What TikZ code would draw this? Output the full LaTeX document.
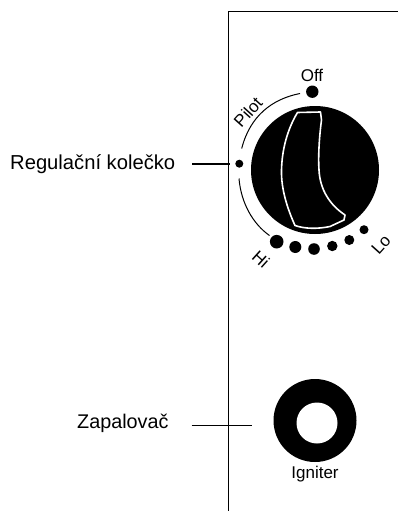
\documentclass[tikz,border=0pt]{standalone}
\usepackage{fontspec}
\setmainfont{Liberation Sans}
\tikzset{
  lbl/.style={inner sep=0pt,font=\fontsize{19.8}{22}\selectfont,text=black},
  biglbl/.style={inner sep=0pt,font=\fontsize{20.2}{22}\selectfont,text=black},
  dial/.style={inner sep=0pt,font=\fontsize{17}{19}\selectfont,text=black},
  scale mark/.style={fill=black,draw=none},
  panel/.style={draw=black,line width=1pt},
  leader/.style={draw=black,line width=1pt},
  thickleader/.style={draw=black,line width=2.2pt},
  arcline/.style={draw=black,line width=1pt}
}
\begin{document}
\begin{tikzpicture}[x=1pt,y=-1pt]
\useasboundingbox (0,0) rectangle (398,511);
\fill[white] (0,0) rectangle (398,511);
% panel
\draw[panel] (398,12) -- (228.5,12) -- (228.5,511);
% knob
\fill[black] (315,170) circle (64);
\draw[white,line width=1.6pt,line join=round]
 (297.5,112.5) -- (320.5,112) -- (321.5,120)
 .. controls (319.5,135) and (318,155) .. (319,170)
 .. controls (320,190) and (330,205) .. (345,215)
 -- (344,220) -- (330,226.5)
 .. controls (318,229) and (305,229) .. (295,225.5)
 .. controls (288,210) and (281,190) .. (281.5,170)
 .. controls (282,150) and (287,130) .. (297.5,112.5) -- cycle;
% dial marks
\fill[scale mark] (312.3,91.7) circle (6.2);
\fill[scale mark] (239.3,163.7) circle (4);
\fill[scale mark] (276.7,241.7) circle (6.8);
\fill[scale mark] (295.3,247) circle (6);
\fill[scale mark] (314,249) circle (5.8);
\fill[scale mark] (332.3,246) circle (5.2);
\fill[scale mark] (349.3,240) circle (5);
\fill[scale mark] (364,229.7) circle (4.5);
% arcs
\draw[arcline] (300,93.5) .. controls (272,99) and (250,116) .. (241.7,148.5);
\draw[arcline] (239,178.5) .. controls (241,203) and (253,224) .. (269.5,235.5);
% labels
\node[biglbl,anchor=west] (reg) at (10,164) {Regulační kolečko};
\node[lbl,anchor=west] (zap) at (77,423.5) {Zapalovač};
\node[dial] (off) at (312,75) {Off};
\node[dial,rotate=48] (pilot) at (248,112) {Pilot};
\node[dial,rotate=-42] (hi) at (261,259.5) {Hi};
\node[dial,rotate=48] (lo) at (381,245) {Lo};
% leaders
\coordinate (t1) at (192,164);
\coordinate (t2) at (230,164);
\draw[thickleader] (t1) -- (t2);
\coordinate (t3) at (191.5,425);
\coordinate (t4) at (252,425);
\draw[leader] (t3) -- (t4);
% igniter
\fill[black] (315,420.5) circle (41.5);
\fill[white] (317,423) circle (20.5);
\node[dial] (ign) at (315,474) {Igniter};
\end{tikzpicture}
\end{document}
